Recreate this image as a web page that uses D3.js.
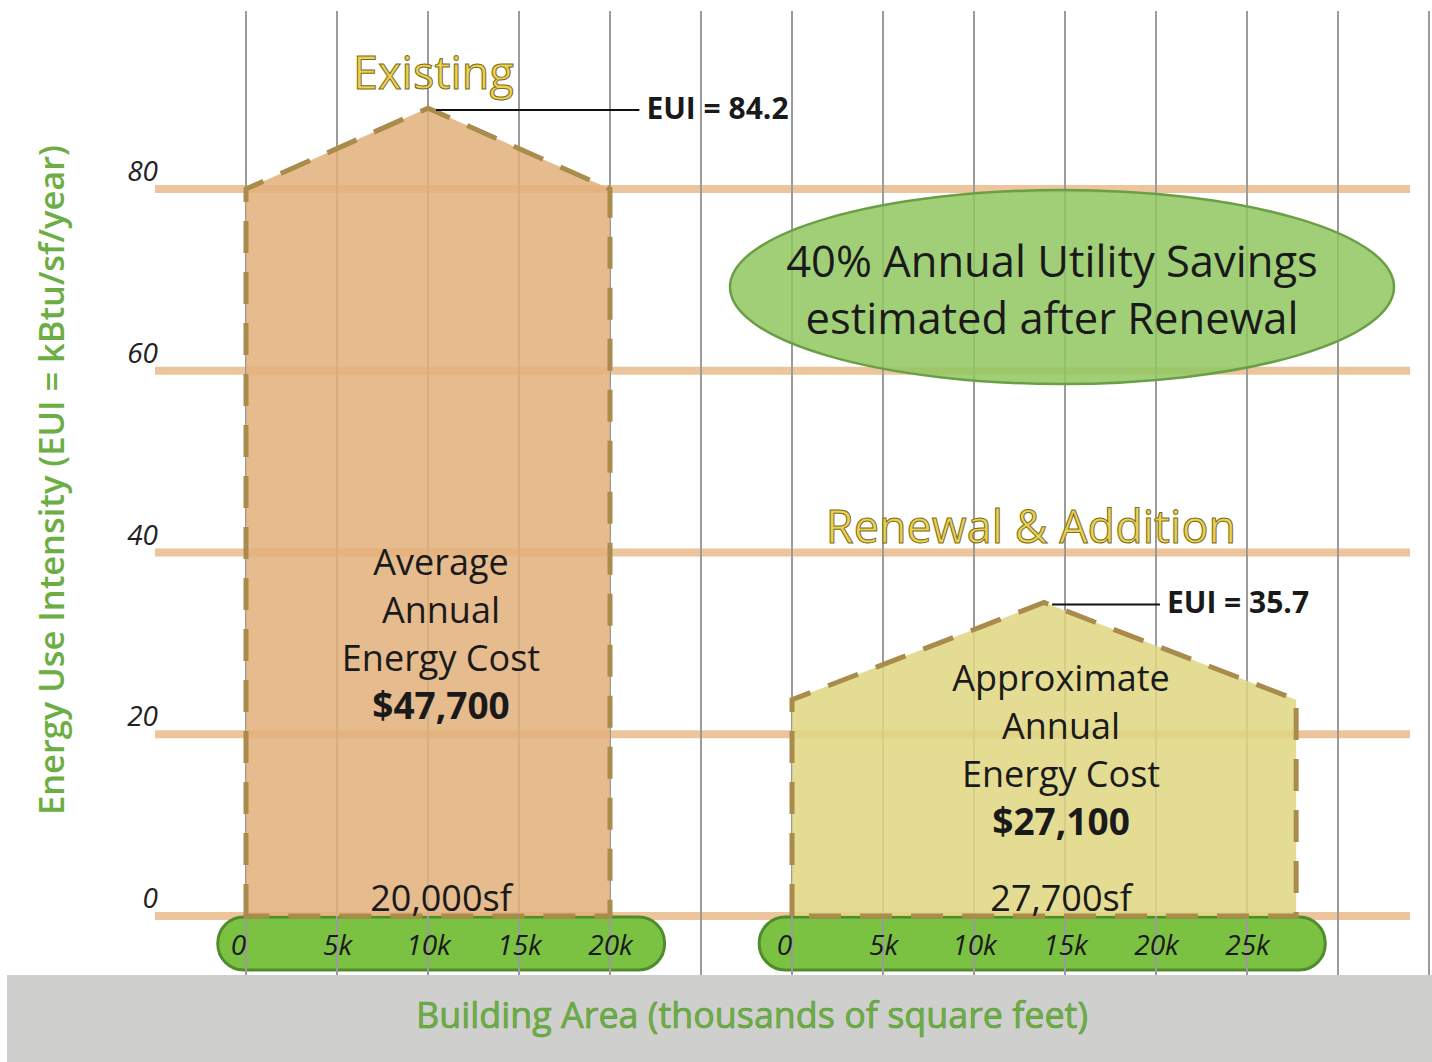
<!DOCTYPE html>
<html>
<head>
<meta charset="utf-8">
<script src="https://cdn.jsdelivr.net/npm/d3@7"></script>
<style>
  body { margin: 0; background: #fff; }
  svg text { font-family: "Open Sans", "Noto Sans", sans-serif; }
</style>
</head>
<body>
<div id="chart"></div>
<script>
const width = 1432, height = 1062

// DATA
const euiTicks = [0, 20, 40, 60, 80]
const buildings = ["Existing", "Renewal & Addition"]
const areaK = [20, 27.7]            // building area (thousands sf)
const eaveEUI = [80, 23.8]          // wall height as drawn
const peakEUI = [88.9, 34.5]        // roof peak as drawn
const euiLabels = ["EUI = 84.2", "EUI = 35.7"]
const costLines = [
  ["Average", "Annual", "Energy Cost", "$47,700"],
  ["Approximate", "Annual", "Energy Cost", "$27,100"]
]
const areaLabels = ["20,000sf", "27,700sf"]
const areaTicks = [[0, 5, 10, 15, 20], [0, 5, 10, 15, 20, 25]]
const savingsText = ["40% Annual Utility Savings", "estimated after Renewal"]

// layout (not data)
const offsetK = [0, 30]                       // where each building's 0 sits on the shared grid
const pillDomain = [[-1.55, 23], [-1.8, 29.3]]
const labelK = [22, 20.6]
const fills = ["#e2b07b", "#e0d681"]

const svg = d3.select("#chart")
  .append("svg")
    .attr("width", width)
    .attr("height", height)

// SCALES
const y = d3.scaleLinear().domain([0, 80]).range([916, 189])
const gridX = d3.scaleLinear().domain([0, 65]).range([246, 1429])
const xs = offsetK.map(o => d3.scaleLinear()
  .domain([0, 5])
  .range([gridX(o), gridX(o + 5)]))

// HORIZONTAL GRID
svg.append("g")
  .selectAll("line")
  .data(euiTicks)
  .join("line")
    .attr("x1", 155)
    .attr("x2", 1410)
    .attr("y1", d => y(d))
    .attr("y2", d => y(d))
    .attr("stroke", "#ecc59c")
    .attr("stroke-width", 8)

// Y TICK LABELS
const yAxis = svg.append("g")
  .attr("transform", "translate(158,0)")
  .call(d3.axisLeft(y).tickValues(euiTicks).tickSize(0).tickPadding(0))
yAxis.select(".domain").remove()
yAxis.selectAll("text")
  .attr("dy", "-0.3em")
  .attr("font-size", 28)
  .attr("font-style", "italic")
  .attr("fill", "#222")

// GRAY BAND
svg.append("rect")
  .attr("x", 7)
  .attr("y", 975)
  .attr("width", width - 7)
  .attr("height", height - 975)
  .attr("fill", "#cfcfcd")

// PILLS (x axis bars)
svg.append("g")
  .selectAll("rect")
  .data(pillDomain)
  .join("rect")
    .attr("x", (d, i) => xs[i](d[0]))
    .attr("width", (d, i) => xs[i](d[1]) - xs[i](d[0]))
    .attr("y", 917)
    .attr("height", 53)
    .attr("rx", 26)
    .attr("fill", "#7cc242")
    .attr("stroke", "#4e8c2c")
    .attr("stroke-width", 3)

// VERTICAL GRID
svg.append("g")
  .selectAll("line")
  .data(d3.range(0, 70, 5))
  .join("line")
    .attr("x1", d => gridX(d))
    .attr("x2", d => gridX(d))
    .attr("y1", 11)
    .attr("y2", 975)
    .attr("stroke", "#9b9b9b")
    .attr("stroke-width", 2)

// BUILDINGS
const house = (i) => {
  const x = xs[i]
  return [
    [x(0), y(0)], [x(0), y(eaveEUI[i])], [x(areaK[i] / 2), y(peakEUI[i])],
    [x(areaK[i]), y(eaveEUI[i])], [x(areaK[i]), y(0)]
  ]
}

svg.append("g")
  .selectAll("path")
  .data(buildings)
  .join("path")
    .attr("d", (d, i) => d3.line()(house(i)) + "Z")
    .attr("fill", (d, i) => fills[i])
    .attr("fill-opacity", 0.86)
    .attr("stroke", "#a98b4c")
    .attr("stroke-width", 5)
    .attr("stroke-dasharray", "32,19")

// X TICK LABELS (inside pills)
areaTicks.forEach((ticks, i) => {
  const ax = svg.append("g")
    .attr("transform", "translate(0,935)")
    .call(d3.axisBottom(xs[i]).tickValues(ticks).tickSize(0).tickPadding(0)
      .tickFormat(d => d ? d + "k" : "0"))
  ax.select(".domain").remove()
  ax.selectAll("text")
    .attr("font-size", 28)
    .attr("font-style", "italic")
    .attr("fill", "#1a1a1a")
    .attr("dx", d => d ? 0 : -8)
})

// BUILDING TITLES
svg.append("g")
  .selectAll("text")
  .data(buildings)
  .join("text")
    .attr("x", (d, i) => i ? 1031 : xs[0](10.3))
    .attr("y", (d, i) => i ? 543 : 89)
    .attr("text-anchor", "middle")
    .attr("font-size", 45)
    .attr("fill", "#ebd250")
    .attr("stroke", "#7d6c22")
    .attr("stroke-width", 1)
    .text(d => d)

// EUI LEADERS + LABELS
svg.append("g")
  .selectAll("line")
  .data(euiLabels)
  .join("line")
    .attr("x1", (d, i) => xs[i](areaK[i] / 2) + 8)
    .attr("x2", (d, i) => xs[i](labelK[i]) - 7)
    .attr("y1", (d, i) => y(peakEUI[i]) + 2)
    .attr("y2", (d, i) => y(peakEUI[i]) + 2)
    .attr("stroke", "#111")
    .attr("stroke-width", 2)

svg.append("g")
  .selectAll("text")
  .data(euiLabels)
  .join("text")
    .attr("x", (d, i) => xs[i](labelK[i]))
    .attr("y", (d, i) => y(peakEUI[i]) + 11)
    .attr("font-size", 30)
    .attr("font-weight", "bold")
    .attr("fill", "#1a1a1a")
    .text(d => d)

// COST TEXT
costLines.forEach((lines, i) => {
  const cx = xs[i](areaK[i] / 2) + (i ? 17 : 13)
  const top = i ? 691 : 575
  svg.append("g")
    .selectAll("text")
    .data(lines)
    .join("text")
      .attr("x", cx)
      .attr("y", (d, j) => top + j * 48)
      .attr("text-anchor", "middle")
      .attr("font-size", (d, j) => j === 3 ? 37 : 36)
      .attr("font-weight", (d, j) => j === 3 ? "bold" : "normal")
      .attr("fill", "#1a1a1a")
      .text(d => d)
})

// AREA LABELS
svg.append("g")
  .selectAll("text")
  .data(areaLabels)
  .join("text")
    .attr("x", (d, i) => xs[i](areaK[i] / 2) + (i ? 17 : 13))
    .attr("y", 911)
    .attr("text-anchor", "middle")
    .attr("font-size", 36)
    .attr("fill", "#1a1a1a")
    .text(d => d)

// SAVINGS ELLIPSE
svg.append("ellipse")
  .attr("cx", 1062)
  .attr("cy", 287)
  .attr("rx", 332)
  .attr("ry", 97)
  .attr("fill", "#90c760")
  .attr("fill-opacity", 0.85)
  .attr("stroke", "#6b9f45")
  .attr("stroke-width", 2.5)

svg.append("g")
  .selectAll("text")
  .data(savingsText)
  .join("text")
    .attr("x", 1052)
    .attr("y", (d, i) => 277 + i * 57)
    .attr("text-anchor", "middle")
    .attr("font-size", 43.5)
    .attr("fill", "#1a1a1a")
    .text(d => d)

// AXIS TITLES
svg.append("text")
  .attr("transform", "translate(64,480) rotate(-90)")
  .attr("text-anchor", "middle")
  .attr("font-size", 35)
  .attr("font-weight", 600)
  .attr("textLength", 670)
  .attr("lengthAdjust", "spacingAndGlyphs")
  .attr("fill", "#6cae44")
  .text("Energy Use Intensity (EUI = kBtu/sf/year)")

svg.append("text")
  .attr("x", 752)
  .attr("y", 1028)
  .attr("text-anchor", "middle")
  .attr("font-size", 37)
  .attr("textLength", 672)
  .attr("lengthAdjust", "spacingAndGlyphs")
  .attr("fill", "#6cae44")
  .attr("stroke", "#5a9a38")
  .attr("stroke-width", 0.6)
  .text("Building Area (thousands of square feet)")
</script>
</body>
</html>
